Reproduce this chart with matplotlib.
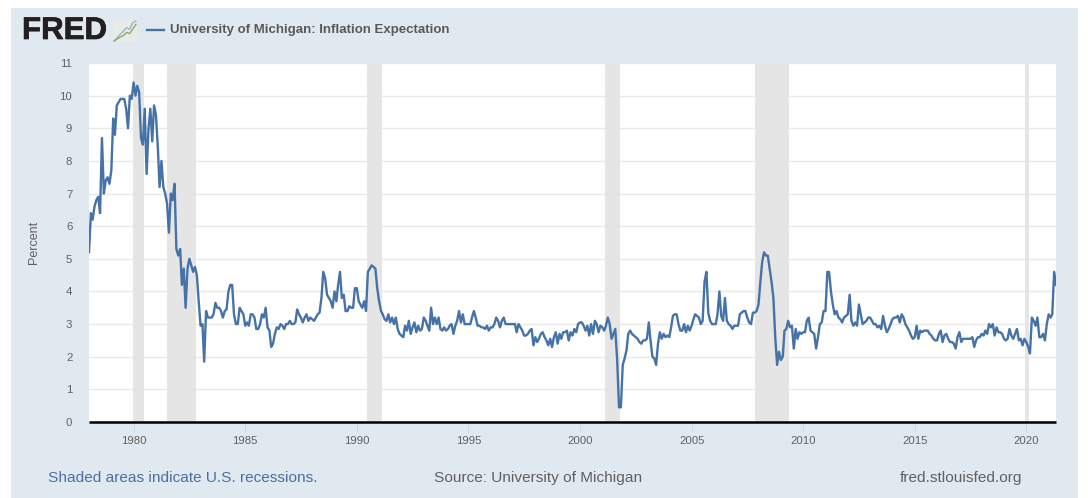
import matplotlib
matplotlib.use("Agg")
import matplotlib.pyplot as plt
import matplotlib.dates as mdates
import matplotlib.patheffects as pe
import pandas as pd

plt.rcParams['font.family'] = ['Liberation Sans', 'DejaVu Sans']

W, H = 1088, 498

series_name = "University of Michigan: Inflation Expectation"
y_ticks = list(range(0, 12))
x_tick_years = list(range(1980, 2021, 5))

values_1978_1984 = [
    5.2, 6.4, 6.2, 6.6, 6.8, 6.9, 6.4, 8.7, 7.0, 7.4, 7.5, 7.3,
    7.7, 9.3, 8.8, 9.7, 9.8, 9.9, 9.9, 9.9, 9.6, 9.0, 10.0, 9.9,
    10.4, 10.0, 10.3, 10.1, 8.7, 8.5, 9.6, 7.6, 9.0, 9.6, 8.6, 9.7,
    9.4, 8.4, 7.2, 8.0, 7.2, 7.0, 6.7, 5.8, 7.0, 6.8, 7.3, 5.3,
    5.1, 5.3, 4.2, 4.7, 3.5, 4.7, 5.0, 4.8, 4.6, 4.75, 4.5, 3.7,
    2.95, 3.0, 1.85, 3.4, 3.2, 3.2, 3.2, 3.3, 3.65, 3.5, 3.5, 3.4,
    3.2, 3.4, 3.45, 4.0, 4.2, 4.2, 3.3, 3.0, 3.0, 3.5, 3.4, 3.3,
]
values_1985_1991 = [
    2.95, 3.05, 2.95, 3.3, 3.3, 3.2, 2.85, 2.85, 3.0, 3.3, 3.2, 3.5,
    2.9, 2.8, 2.3, 2.4, 2.7, 2.9, 2.85, 3.0, 2.95, 2.85, 3.0, 3.0,
    3.1, 3.0, 3.0, 3.05, 3.45, 3.3, 3.2, 3.05, 3.2, 3.3, 3.1, 3.2,
    3.15, 3.1, 3.2, 3.3, 3.35, 3.8, 4.6, 4.4, 3.9, 3.8, 3.7, 3.5,
    4.0, 3.7, 4.2, 4.6, 3.8, 3.9, 3.4, 3.4, 3.55, 3.5, 3.5, 4.1,
    4.1, 3.7, 3.6, 3.5, 3.7, 3.4, 4.6, 4.7, 4.8, 4.75, 4.7, 4.1,
    3.7, 3.4, 3.3, 3.15, 3.1, 3.3, 3.05, 3.2, 3.0, 3.2, 2.85, 2.7,
]
values_1992_1998 = [
    2.65, 2.6, 2.95, 2.8, 3.1, 2.7, 2.9, 3.05, 2.75, 2.95, 2.8, 2.85,
    3.2, 3.1, 2.95, 2.8, 3.5, 3.0, 3.2, 3.0, 3.2, 2.85, 2.8, 2.9,
    2.8, 2.85, 2.95, 3.0, 2.7, 2.95, 3.1, 3.4, 3.05, 3.3, 3.0, 3.0,
    3.0, 3.0, 3.2, 3.4, 3.2, 2.95, 2.95, 2.9, 2.9, 2.85, 2.95, 2.8,
    2.9, 2.9, 3.0, 3.2, 3.1, 2.9, 3.1, 3.2, 3.0, 3.0, 3.0, 3.0,
    3.0, 3.0, 2.75, 3.0, 2.9, 2.8, 2.65, 2.65, 2.7, 2.8, 2.85, 2.35,
    2.6, 2.45, 2.55, 2.7, 2.75, 2.6, 2.5, 2.35, 2.55, 2.3, 2.6, 2.75,
]
values_1999_2005 = [
    2.4, 2.7, 2.55, 2.75, 2.75, 2.8, 2.5, 2.75, 2.65, 2.85, 2.75, 3.0,
    3.05, 3.05, 2.95, 2.8, 2.95, 2.65, 3.0, 2.7, 3.1, 3.0, 2.75, 2.95,
    2.9, 2.8, 2.95, 3.2, 3.0, 2.55, 2.7, 2.85, 1.9, 0.45, 0.45, 1.75,
    1.95, 2.2, 2.7, 2.8, 2.7, 2.65, 2.6, 2.55, 2.45, 2.4, 2.5, 2.5,
    2.55, 3.05, 2.5, 2.0, 1.95, 1.75, 2.4, 2.75, 2.55, 2.7, 2.6, 2.65,
    2.6, 2.9, 3.25, 3.3, 3.3, 3.0, 2.8, 2.8, 3.0, 2.75, 2.95, 2.8,
    2.95, 3.15, 3.3, 3.25, 3.2, 3.0, 3.1, 4.3, 4.6, 3.35, 3.1, 3.0,
]
values_2006_2012 = [
    3.0, 3.0, 3.3, 4.0, 3.25, 3.1, 3.8, 3.1, 3.0, 2.95, 2.85, 2.95,
    2.95, 2.95, 3.3, 3.35, 3.4, 3.4, 3.2, 3.05, 3.0, 3.35, 3.35, 3.4,
    3.6, 4.3, 4.9, 5.2, 5.1, 5.1, 4.7, 4.3, 3.8, 2.6, 1.75, 2.15,
    1.9, 2.0, 2.8, 2.85, 3.1, 2.9, 2.95, 2.25, 2.85, 2.55, 2.75, 2.7,
    2.75, 2.75, 3.1, 3.2, 2.8, 2.75, 2.7, 2.25, 2.6, 3.0, 3.05, 3.4,
    3.4, 4.6, 4.6, 4.0, 3.6, 3.3, 3.4, 3.2, 3.15, 3.05, 3.2, 3.25,
    3.3, 3.9, 3.1, 2.95, 3.05, 2.95, 3.6, 3.3, 3.0, 3.05, 3.1, 3.2,
]
values_2013_2021 = [
    3.2, 3.1, 3.0, 3.0, 2.9, 2.95, 2.85, 3.25, 2.95, 2.75, 2.85, 3.0,
    3.15, 3.2, 3.2, 3.25, 3.05, 3.3, 3.2, 3.0, 2.9, 2.8, 2.65, 2.55,
    2.6, 2.95, 2.55, 2.8, 2.75, 2.8, 2.8, 2.8, 2.7, 2.65, 2.55, 2.5,
    2.5, 2.7, 2.8, 2.45, 2.65, 2.7, 2.55, 2.45, 2.45, 2.4, 2.25, 2.6,
    2.75, 2.45, 2.55, 2.55, 2.55, 2.55, 2.55, 2.6, 2.3, 2.5, 2.6, 2.6,
    2.7, 2.65, 2.8, 2.7, 3.0, 2.9, 3.0, 2.65, 2.9, 2.75, 2.75, 2.7,
    2.55, 2.5, 2.55, 2.85, 2.65, 2.55, 2.7, 2.85, 2.5, 2.55, 2.35, 2.55,
    2.45, 2.3, 2.1, 3.2, 3.1, 2.95, 3.2, 2.6, 2.6, 2.7, 2.5, 3.0,
    3.3, 3.2, 3.3, 4.6, 4.2,
]
values = (values_1978_1984 + values_1985_1991 + values_1992_1998
          + values_1999_2005 + values_2006_2012 + values_2013_2021)
dates = pd.date_range("1978-01-01", periods=len(values), freq="MS")

recession_start = ["1979-12-20", "1981-06-25", "1990-06-10", "2001-02-15", "2007-11-05", "2019-12-10"]
recession_end = ["1980-06-15", "1982-10-25", "1991-02-10", "2001-10-20", "2009-05-10", "2020-02-20"]

logo_line_a = [0, 1, 2, 3, 4, 3.5, 5.5, 6]
logo_line_b = [0, 0.6, 1.2, 1.6, 2.6, 2.2, 3.6, 5]

BG = "#e1e9f0"
TXT = "#606060"
BLUE = "#4572a7"

fig = plt.figure(figsize=(W / 100, H / 100), dpi=100, facecolor="white")
panel = fig.add_axes([11 / W, 0, (1078 - 11) / W, 1 - 8 / H])
panel.set_facecolor(BG)
panel.set_xticks([])
panel.set_yticks([])
for s in panel.spines.values():
    s.set_visible(False)

L, R, T, B = 89, 1056, 63, 422
ax = fig.add_axes([L / W, 1 - B / H, (R - L) / W, (B - T) / H])
ax.set_facecolor("white")
ax.set_ylim(0, 11)
ax.set_xlim(dates[0], dates[-1])
ax.set_yticks(y_ticks)
ax.yaxis.grid(True, color="#e9e9e9", lw=1)
ax.set_axisbelow(True)
for s in ("top", "left", "right"):
    ax.spines[s].set_visible(False)
ax.spines["bottom"].set_color("black")
ax.spines["bottom"].set_linewidth(1.8)
ax.spines["bottom"].set_zorder(5)
ax.spines["bottom"].set_capstyle("butt")
for a, b in zip(recession_start, recession_end):
    ax.axvspan(pd.Timestamp(a), pd.Timestamp(b), color="#e5e5e5", lw=0, zorder=1)
ax.plot(dates, values, color=BLUE, lw=1.7, zorder=3, solid_joinstyle="round")
ax.set_xticks([pd.Timestamp(f"{y}-01-01") for y in x_tick_years])
ax.xaxis.set_major_formatter(mdates.DateFormatter("%Y"))
ax.tick_params(axis="x", length=7, width=0.7, color="#ccd6eb", labelcolor=TXT, labelsize=8.2, pad=3.3)
ax.tick_params(axis="y", length=0, labelcolor=TXT, labelsize=8.2, pad=12)
fig.text(34 / W, 1 - 242 / H, "Percent", rotation=90, ha="center", va="center", color=TXT, fontsize=9)

fig.text(22 / W, 1 - 31 / H, "FRED", ha="left", va="center", fontsize=22.5, fontweight="bold", color="#231f20",
         path_effects=[pe.withStroke(linewidth=0.5, foreground="#231f20")])
fig.text(170 / W, 1 - 30 / H, series_name, ha="left", va="center", fontsize=9.55, fontweight="bold", color="#595959")
fig.add_artist(plt.Line2D([147 / W, 164 / W], [1 - 30 / H, 1 - 30 / H], color=BLUE, lw=1.7))

logo = fig.add_axes([113 / W, 1 - 42 / H, 24 / W, 22 / H])
logo.set_facecolor("#e8ebe8")
logo.set_xticks([])
logo.set_yticks([])
for s in logo.spines.values():
    s.set_visible(False)
logo.plot(logo_line_a, color="#9db4cc", lw=1)
logo.plot(logo_line_b, color="#8fae5f", lw=1)

fig.text(48 / W, 1 - 478 / H, "Shaded areas indicate U.S. recessions.", ha="left", va="center", fontsize=11.1, color="#4a6fa5")
fig.text(434 / W, 1 - 478 / H, "Source: University of Michigan", ha="left", va="center", fontsize=11.1, color=TXT)
fig.text(900 / W, 1 - 478 / H, "fred.stlouisfed.org", ha="left", va="center", fontsize=11.1, color=TXT)

fig.savefig("out.png", dpi=100, facecolor="white")
